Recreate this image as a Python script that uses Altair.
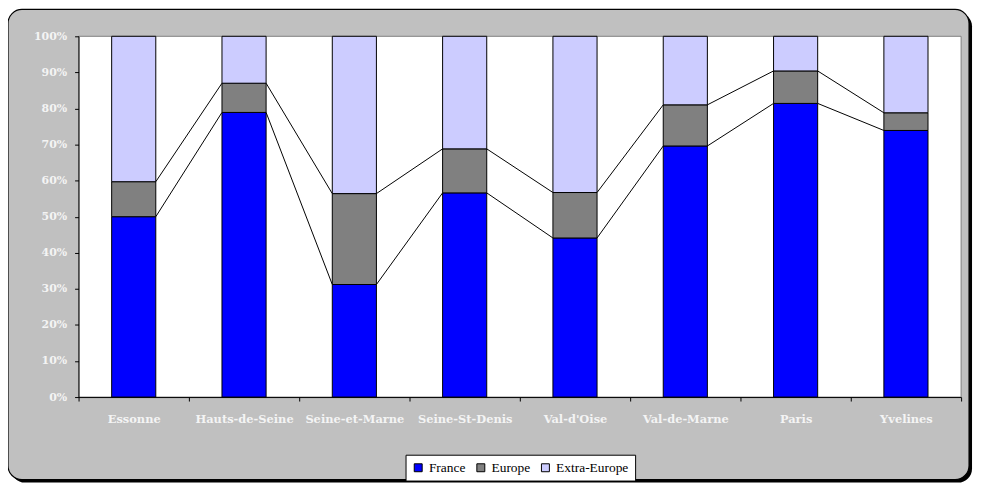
import altair as alt
import pandas as pd

categories = ["Essonne", "Hauts-de-Seine", "Seine-et-Marne", "Seine-St-Denis",
              "Val-d'Oise", "Val-de-Marne", "Paris", "Yvelines"]
series = ["France", "Europe", "Extra-Europe"]
colors = ["#0000FF", "#808080", "#CCCCFF"]
france = [50.0, 78.9, 31.2, 56.6, 44.1, 69.6, 81.4, 73.9]
europe = [9.7, 8.1, 25.2, 12.2, 12.6, 11.4, 9.0, 4.9]
extra = [40.3, 13.0, 43.6, 31.2, 43.3, 19.0, 9.6, 21.2]
y_ticks = [0, 0.1, 0.2, 0.3, 0.4, 0.5, 0.6, 0.7, 0.8, 0.9, 1.0]

rows = []
for i, c in enumerate(categories):
    for k, (s, vals) in enumerate(zip(series, [france, europe, extra])):
        rows.append({"cat": c, "series": s, "value": vals[i] / 100, "idx": k})
df = pd.DataFrame(rows)

seg = []
for i in range(len(categories) - 1):
    seg.append({"a": categories[i], "b": categories[i + 1],
                "ya": france[i] / 100, "yb": france[i + 1] / 100})
    seg.append({"a": categories[i], "b": categories[i + 1],
                "ya": (france[i] + europe[i]) / 100,
                "yb": (france[i + 1] + europe[i + 1]) / 100})
segdf = pd.DataFrame(seg)

W, H = 888, 363
PL, PT = 71, 27

one = alt.Data(values=[{"k": 0}])

shadow = alt.Chart(one).mark_rect(color="black", cornerRadius=14).encode(
    x=alt.value(-PL + 3), x2=alt.value(899), y=alt.value(-PT + 3), y2=alt.value(449))
panel = alt.Chart(one).mark_rect(fill="#C0C0C0", stroke="black", strokeWidth=1.2,
                                 cornerRadius=14).encode(
    x=alt.value(-PL), x2=alt.value(896), y=alt.value(-PT), y2=alt.value(446))
plotbg = alt.Chart(one).mark_rect(fill="white", stroke="#808080", strokeWidth=1).encode(
    x=alt.value(0), x2=alt.value(W), y=alt.value(0), y2=alt.value(H))

xscale = alt.Scale(domain=categories, paddingInner=0, paddingOuter=0)
yscale = alt.Scale(domain=[0, 1], nice=False)
xaxis = alt.Axis(title=None, labelAngle=0, tickBand="extent", labelPadding=13,
                 labelFontSize=11.5, zindex=2)
yaxis = alt.Axis(title=None, values=y_ticks, tickCount=11, format=".0%", labelPadding=8,
                 labelOverlap=False, labelFlush=False, labelFontSize=11, zindex=2)

bars = alt.Chart(df).mark_bar(width=alt.RelativeBandSize(0.4), stroke="black",
                              strokeWidth=1).encode(
    x=alt.X("cat:N", scale=xscale, axis=xaxis),
    y=alt.Y("value:Q", stack="zero", scale=yscale, axis=yaxis),
    color=alt.Color("series:N", scale=alt.Scale(domain=series, range=colors),
                    legend=alt.Legend(title=None, orient="none", direction="horizontal",
                                      legendX=329, legendY=421, zindex=2)),
    order=alt.Order("idx:Q", sort="ascending"),
)

lines = alt.Chart(segdf).mark_rule(color="black", strokeWidth=1).encode(
    x=alt.X("a:N", scale=xscale, axis=xaxis, bandPosition=0.7),
    x2=alt.X2("b", bandPosition=0.3),
    y=alt.Y("ya:Q", scale=yscale, axis=yaxis),
    y2=alt.Y2("yb"),
)

chart = alt.layer(shadow, panel, plotbg, bars, lines).properties(
    width=W, height=H, autosize="none",
    padding={"left": PL, "top": PT, "right": 16, "bottom": 88},
    background="white",
).configure_view(stroke=None).configure_axis(
    grid=False, domainColor="black", tickColor="black", tickSize=4,
    labelFont="DejaVu Serif", labelFontWeight="bold",
    labelColor="#F4F4F4",
).configure_legend(
    fillColor="white", strokeColor="black", padding=6,
    symbolType="square", symbolSize=64, symbolStrokeColor="black",
    symbolStrokeWidth=1, labelFont="Liberation Serif", labelFontSize=13.5,
    labelColor="black", columnPadding=8, labelOffset=4,
)

chart.save("out.html", embed_options={"renderer": "svg", "actions": False})
